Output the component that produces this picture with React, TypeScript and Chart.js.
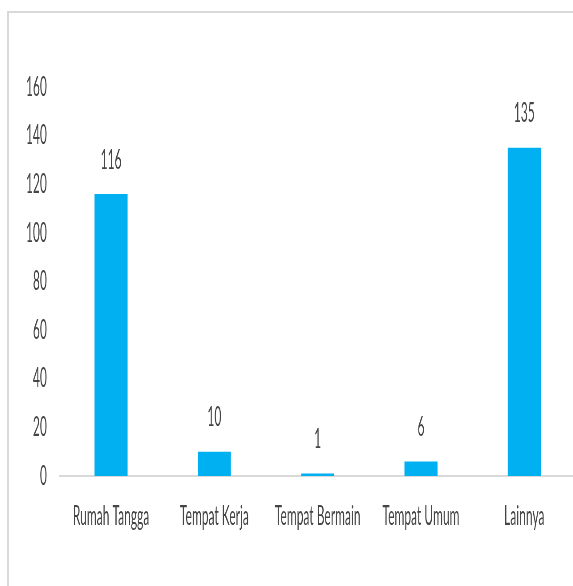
import React, { useEffect, useRef } from "react";
import { Chart, registerables } from "chart.js";

Chart.register(...registerables);

// Reported cases by location
const categories = ["Rumah Tangga", "Tempat Kerja", "Tempat Bermain", "Tempat Umum", "Lainnya"];
const cases = [116, 10, 1, 6, 135];

// Value axis
const yMin = 0;
const yMax = 160;
const yStep = 20;

// Drawing geometry: the canvas is squeezed horizontally by SX,
// so horizontal sizes below are given in screen pixels and divided by SX.
const SX = 0.445;
const FONT_SIZE = 27;
const FONT_FAMILY = "Lato, 'Open Sans', sans-serif";
const ORIGIN_X = 9;
const PLOT_LEFT = (59.4 - ORIGIN_X) / SX;
const CANVAS_W = Math.ceil((575.6 - ORIGIN_X) / SX);
const Y_TICK_GAP = 12.5 / SX;
const CANVAS_H = 573;
const PLOT_TOP = 74;
const PLOT_BOTTOM = 463;
const TEXT_COLOR = "#454545";
const BAR_COLOR = "#00B0F0";
const LINE_COLOR = "#D9D9D9";

const valueLabels = {
  id: "valueLabels",
  afterDatasetsDraw(chart: any) {
    const { ctx } = chart;
    const meta = chart.getDatasetMeta(0);
    const values = chart.data.datasets[0].data as number[];
    ctx.save();
    ctx.font = `${FONT_SIZE}px ${FONT_FAMILY}`;
    ctx.fillStyle = TEXT_COLOR;
    ctx.textAlign = "center";
    ctx.textBaseline = "middle";
    meta.data.forEach((bar: any, i: number) => {
      ctx.fillText(String(values[i]), bar.x, bar.y - 34);
    });
    ctx.restore();
  },
};

export default function App() {
  const canvasRef = useRef<HTMLCanvasElement | null>(null);

  useEffect(() => {
    const canvas = canvasRef.current;
    if (!canvas) return;
    const chart = new Chart(canvas, {
      type: "bar",
      data: {
        labels: categories,
        datasets: [
          {
            data: cases,
            backgroundColor: BAR_COLOR,
            borderWidth: 0,
            barPercentage: 0.32,
            categoryPercentage: 1,
          },
        ],
      },
      options: {
        responsive: false,
        animation: false,
        devicePixelRatio: 1,
        layout: { padding: { top: PLOT_TOP, left: 0, right: 0, bottom: 0 } },
        plugins: {
          legend: { display: false },
          tooltip: { enabled: false },
        },
        scales: {
          x: {
            grid: { display: false, drawTicks: false },
            border: { display: true, color: LINE_COLOR, width: 2 },
            ticks: {
              color: TEXT_COLOR,
              padding: 24,
              maxRotation: 0,
              autoSkip: false,
              font: { size: FONT_SIZE, family: FONT_FAMILY },
            },
            afterFit: (axis: any) => {
              axis.height = CANVAS_H - PLOT_BOTTOM;
            },
          },
          y: {
            min: yMin,
            max: yMax,
            grid: { display: false, drawTicks: false },
            border: { display: false },
            ticks: {
              stepSize: yStep,
              color: TEXT_COLOR,
              padding: Y_TICK_GAP,
              font: { size: FONT_SIZE, family: FONT_FAMILY },
            },
            afterFit: (axis: any) => {
              axis.width = PLOT_LEFT;
            },
          },
        },
      },
      plugins: [valueLabels],
    });
    return () => chart.destroy();
  }, []);

  return (
    <div
      style={{
        position: "absolute",
        left: 7,
        top: 11,
        width: 566,
        height: 575,
        borderLeft: `2px solid ${LINE_COLOR}`,
        borderTop: `2px solid ${LINE_COLOR}`,
        overflow: "hidden",
        background: "#fff",
      }}
    >
      <div style={{ transform: `scaleX(${SX})`, transformOrigin: "0 0", width: CANVAS_W, height: CANVAS_H }}>
        <canvas ref={canvasRef} width={CANVAS_W} height={CANVAS_H} />
      </div>
    </div>
  );
}
